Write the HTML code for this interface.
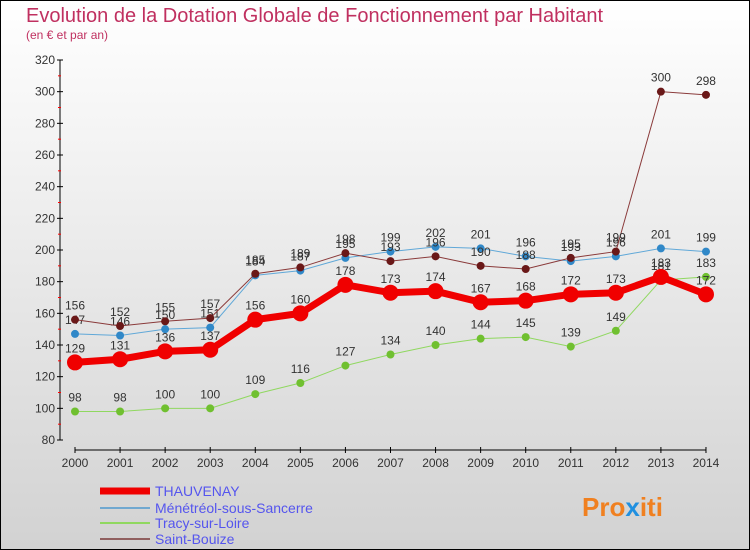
<!DOCTYPE html>
<html><head><meta charset="utf-8"><style>
body{margin:0}
svg{display:block;font-family:"Liberation Sans",sans-serif}
</style></head><body>
<svg width="750" height="550" xmlns="http://www.w3.org/2000/svg">
<defs><linearGradient id="bg" x1="0" y1="0" x2="0" y2="1"><stop offset="0" stop-color="#ffffff"/><stop offset="1" stop-color="#d2d2d2"/></linearGradient></defs>
<rect x="0.5" y="0.5" width="749" height="549" fill="url(#bg)" stroke="#000"/>
<text x="26" y="22" font-size="20" fill="#c03060">Evolution de la Dotation Globale de Fonctionnement par Habitant</text>
<text x="26" y="39" font-size="12" fill="#c03060">(en € et par an)</text>
<g id="axes"></g>
<g id="series"></g>
<g id="legend"></g>
<text x="582" y="516" font-size="26" font-weight="bold" fill="#f08020">Pro<tspan fill="#2090e0">x</tspan>iti</text>
</svg>
<script>
const years=[2000,2001,2002,2003,2004,2005,2006,2007,2008,2009,2010,2011,2012,2013,2014];
const yTicks=[80,100,120,140,160,180,200,220,240,260,280,300,320];
const thauvenay=[129,131,136,137,156,160,178,173,174,167,168,172,173,183,172];
const menetreol=[147,146,150,151,184,187,195,199,202,201,196,193,196,201,199];
const tracy=[98,98,100,100,109,116,127,134,140,144,145,139,149,181,183];
const saintBouize=[156,152,155,157,185,189,198,193,196,190,188,195,199,300,298];
const NS="http://www.w3.org/2000/svg";
const X=i=>75+i*45.07;
const Y=v=>440-(v-80)*380/240;
function mk(t,a,p){const e=document.createElementNS(NS,t);for(const k in a)e.setAttribute(k,a[k]);p.appendChild(e);return e;}
const ax=document.getElementById('axes');
let l=mk('line',{x1:60,y1:60,x2:60,y2:440,stroke:'#000'},ax);


l=mk('line',{x1:75,y1:450,x2:706,y2:450,stroke:'#000'},ax);


yTicks.forEach((v,i)=>{
  mk('line',{x1:57,y1:Y(v),x2:63,y2:Y(v),stroke:'#000'},ax);
  if(i<yTicks.length-1)mk('line',{x1:58,y1:Y(v+10),x2:61,y2:Y(v+10),stroke:'#f00'},ax);
  const t=mk('text',{x:55,y:Y(v)+4,'font-size':12,fill:'#333','text-anchor':'end'},ax);
  t.textContent=v;
  
  
});
years.forEach((y,i)=>{
  mk('line',{x1:X(i),y1:447,x2:X(i),y2:453,stroke:'#000'},ax);
  const t=mk('text',{x:X(i),y:467,'font-size':12,fill:'#333','text-anchor':'middle'},ax);
  t.textContent=y;
  
  
});
const sg=document.getElementById('series');
const series=[
 {name:'tracy',d:tracy,c:'#90d860',pc:'#70c030',w:1,r:4},
 {name:'menetreol',d:menetreol,c:'#60a8d8',pc:'#3088c8',w:1,r:4},
 {name:'saint-bouize',d:saintBouize,c:'#8a3a3a',pc:'#6a1818',w:1,r:4},
 {name:'thauvenay',d:thauvenay,c:'#f00000',pc:'#f00000',w:7,r:8}];
series.forEach(s=>{
  const g=mk('g',{},sg);
  
  
  const p=mk('polyline',{points:s.d.map((v,i)=>X(i)+','+Y(v)).join(' '),fill:'none',stroke:s.c,'stroke-width':s.w},g);
  
  
  s.d.forEach((v,i)=>{
    const c=mk('circle',{cx:X(i),cy:Y(v),r:s.r,fill:s.pc},g);
    
    
    const t=mk('text',{x:X(i),y:Y(v)-10,'font-size':12,fill:'#333','text-anchor':'middle'},g);
    t.textContent=v;
    
    
  });
});
const lg=document.getElementById('legend');
const leg=[['THAUVENAY','#f00000',7,491],['Ménétréol-sous-Sancerre','#70a8d0',2,508],['Tracy-sur-Loire','#90d860',2,523],['Saint-Bouize','#906060',2,539]];
leg.forEach(e=>{
  const g=mk('g',{},lg);
  
  
  mk('line',{x1:100,y1:e[3],x2:150,y2:e[3],stroke:e[1],'stroke-width':e[2]},g);
  const t=mk('text',{x:155,y:e[3]+5,'font-size':14,fill:'#5555ee'},g);
  t.textContent=e[0];
});
</script>
</body></html>
